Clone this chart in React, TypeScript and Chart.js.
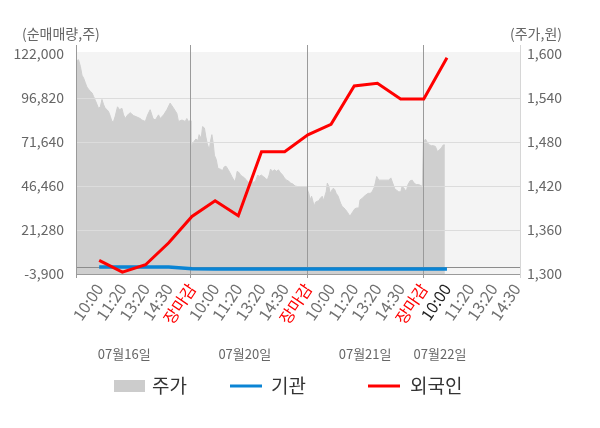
import { useEffect, useRef } from 'react';
import { Chart, registerables } from 'chart.js';

Chart.register(...registerables);

const FONT = "'Noto Sans CJK KR', 'Noto Sans', sans-serif";

// x축: 한 칸 = 한 구간 (1 = 첫날 10:00)
const timeLabels = [
  '10:00', '11:20', '13:20', '14:30', '장마감',
  '10:00', '11:20', '13:20', '14:30', '장마감',
  '10:00', '11:20', '13:20', '14:30', '장마감',
  '10:00', '11:20', '13:20', '14:30',
];
const dateLabels = ['07월16일', '07월20일', '07월21일', '07월22일'];

// 순매매량(주), x = 1..16
const foreignNet = [3900, -2800, 1400, 14000, 29000, 38000, 29400, 66100, 66100, 75700, 81800, 103700, 105200, 96300, 96300, 119900];
const instNet = [100, 100, 100, 100, -900, -1000, -1000, -1000, -1000, -1000, -1000, -1000, -1000, -1000, -1000, -1000];

// 주가(원) 장중 흐름 [구간 위치, 가격]
const priceJul16: [number, number][] = [
  [0.01, 1589], [0.08, 1592], [0.11, 1592], [0.19, 1583], [0.26, 1571], [0.33, 1567], [0.4, 1561], [0.47, 1555],
  [0.54, 1552], [0.62, 1549], [0.69, 1547], [0.76, 1542], [0.83, 1537], [0.91, 1531], [0.97, 1526], [1.05, 1528],
  [1.12, 1538], [1.19, 1531], [1.26, 1526], [1.34, 1524], [1.41, 1521], [1.48, 1515], [1.55, 1508], [1.62, 1508],
  [1.69, 1515], [1.79, 1528], [1.88, 1524], [1.98, 1526], [2.05, 1517], [2.13, 1512], [2.2, 1516], [2.34, 1520],
  [2.41, 1518], [2.48, 1516], [2.63, 1514], [2.77, 1512], [2.84, 1510], [2.99, 1508], [3.09, 1517], [3.2, 1524],
  [3.32, 1512], [3.42, 1510], [3.56, 1517], [3.63, 1512], [3.78, 1517], [3.92, 1524], [4.06, 1533], [4.21, 1526],
  [4.35, 1519], [4.42, 1508], [4.57, 1510], [4.71, 1508], [4.78, 1512], [4.85, 1508], [4.93, 1509],
];
const priceJul20: [number, number][] = [
  [4.96, 1472], [5.03, 1478], [5.1, 1481], [5.17, 1484], [5.26, 1482], [5.31, 1490], [5.4, 1485], [5.46, 1501],
  [5.54, 1499], [5.6, 1487], [5.66, 1478], [5.75, 1469], [5.8, 1481], [5.86, 1490], [5.92, 1478], [5.97, 1462],
  [6.05, 1456], [6.12, 1444], [6.22, 1443], [6.32, 1441], [6.39, 1446], [6.47, 1447], [6.55, 1443], [6.64, 1438],
  [6.72, 1433], [6.84, 1426], [6.9, 1431], [6.95, 1440], [7.04, 1438], [7.09, 1435], [7.18, 1433], [7.27, 1431],
  [7.35, 1428], [7.44, 1425], [7.53, 1426], [7.59, 1428], [7.66, 1424], [7.76, 1428], [7.84, 1435], [7.9, 1433],
  [7.99, 1435], [8.07, 1433], [8.16, 1431], [8.25, 1428], [8.33, 1435], [8.39, 1443], [8.48, 1440], [8.56, 1442],
  [8.65, 1440], [8.73, 1442], [8.82, 1438], [8.91, 1435], [8.99, 1431], [9.08, 1428], [9.16, 1427], [9.25, 1424],
  [9.34, 1423], [9.45, 1420], [9.59, 1419], [9.74, 1419], [9.85, 1419], [9.95, 1419],
];
const priceJul21: [number, number][] = [
  [9.98, 1415], [10.04, 1410], [10.1, 1401], [10.16, 1406], [10.22, 1399], [10.27, 1392], [10.33, 1398], [10.39, 1399],
  [10.47, 1400], [10.53, 1403], [10.62, 1406], [10.67, 1400], [10.73, 1406], [10.79, 1412], [10.84, 1424], [10.91, 1419],
  [10.96, 1410], [11.05, 1415], [11.1, 1417], [11.16, 1415], [11.22, 1410], [11.31, 1406], [11.36, 1401], [11.42, 1396],
  [11.48, 1392], [11.53, 1391], [11.62, 1388], [11.71, 1384], [11.77, 1381], [11.82, 1379], [11.88, 1382], [11.94, 1385],
  [12.03, 1389], [12.11, 1390], [12.2, 1390], [12.25, 1401], [12.34, 1403], [12.43, 1406], [12.51, 1408], [12.6, 1410],
  [12.69, 1410], [12.77, 1412], [12.86, 1418], [12.91, 1424], [12.97, 1433], [13.06, 1428], [13.15, 1428], [13.26, 1428],
  [13.38, 1428], [13.49, 1428], [13.58, 1431], [13.66, 1424], [13.75, 1416], [13.84, 1414], [13.92, 1412], [14.01, 1412],
  [14.06, 1419], [14.15, 1417], [14.24, 1412], [14.32, 1422], [14.41, 1427], [14.5, 1428], [14.58, 1424], [14.67, 1422],
  [14.78, 1422], [14.91, 1420], [14.94, 1420],
];
const priceJul22: [number, number][] = [
  [14.98, 1478], [15.07, 1484], [15.16, 1479], [15.24, 1476], [15.33, 1475], [15.41, 1475], [15.5, 1474], [15.59, 1467],
  [15.67, 1469], [15.76, 1472], [15.84, 1476], [15.91, 1476],
];

const leftTicks = [-3900, 21280, 46460, 71640, 96820, 122000];
const rightTicks = [1300, 1360, 1420, 1480, 1540, 1600];
const dayBreaks = [4.93, 9.95, 14.95];

const decorPlugin = {
  id: 'decor',
  beforeDatasetsDraw(chart: any) {
    const { ctx, chartArea: a } = chart;
    ctx.save();
    ctx.fillStyle = '#f4f4f4';
    ctx.fillRect(a.left, a.top - 2, a.right - a.left, a.bottom - a.top + 2);
    ctx.restore();
  },
  afterDatasetDraw(chart: any, args: any) {
    if (args.index !== 0) return;
    const { ctx, chartArea: a, scales } = chart;
    const yL = scales.yL;
    const x = scales.x;
    const hLine = (y: number, color: string) => {
      const yy = Math.round(y) + 0.5;
      ctx.strokeStyle = color;
      ctx.beginPath();
      ctx.moveTo(a.left, yy);
      ctx.lineTo(a.right, yy);
      ctx.stroke();
    };
    const vLine = (xp: number, color: string) => {
      const xx = Math.round(xp) + 0.5;
      ctx.strokeStyle = color;
      ctx.beginPath();
      ctx.moveTo(xx, a.top - 9);
      ctx.lineTo(xx, a.bottom + 4);
      ctx.stroke();
    };
    ctx.save();
    ctx.lineWidth = 1;
    leftTicks.slice(1, -1).forEach((t) => hLine(yL.getPixelForValue(t), '#dcdcdc'));
    hLine(yL.getPixelForValue(0), '#8c8c8c');
    hLine(a.bottom, '#9a9a9a');
    vLine(a.left, '#9a9a9a');
    vLine(a.right, '#d6d6d6');
    dayBreaks.forEach((v) => vLine(x.getPixelForValue(v), '#9a9a9a'));
    ctx.restore();
  },
  afterDraw(chart: any) {
    const { ctx, scales } = chart;
    const x = scales.x;
    ctx.save();
    ctx.textBaseline = 'middle';
    ctx.fillStyle = '#666';
    ctx.font = `14px ${FONT}`;
    ctx.textAlign = 'left';
    ctx.fillText('(순매매량,주)', 22, 34);
    ctx.textAlign = 'right';
    ctx.fillText('(주가,원)', 562, 34);

    ctx.font = `13px ${FONT}`;
    ctx.textAlign = 'center';
    const datePos = [2.08, 7.28, 12.47, 15.7];
    dateLabels.forEach((d, i) => ctx.fillText(d, x.getPixelForValue(datePos[i]), 354));

    // legend
    ctx.font = `19px ${FONT}`;
    ctx.textAlign = 'left';
    ctx.fillStyle = '#cccccc';
    ctx.fillRect(114, 380, 31, 12);
    ctx.lineWidth = 3;
    ctx.strokeStyle = '#0a84d4';
    ctx.beginPath();
    ctx.moveTo(230, 386);
    ctx.lineTo(262, 386);
    ctx.stroke();
    ctx.strokeStyle = '#ff0000';
    ctx.beginPath();
    ctx.moveTo(368, 386);
    ctx.lineTo(400, 386);
    ctx.stroke();
    ctx.fillStyle = '#333';
    ctx.fillText('주가', 152, 386);
    ctx.fillText('기관', 271, 386);
    ctx.fillText('외국인', 410, 386);
    ctx.restore();
  },
};

const App: React.FC = () => {
  const chartRef = useRef<HTMLCanvasElement | null>(null);
  const chartInstance = useRef<Chart | null>(null);

  useEffect(() => {
    if (!chartRef.current) return;
    if (chartInstance.current) chartInstance.current.destroy();

    const prices = [...priceJul16, ...priceJul20, ...priceJul21, ...priceJul22].map(([x, y]) => ({ x, y }));

    chartInstance.current = new Chart(chartRef.current, {
      type: 'line',
      data: {
        datasets: [
          {
            label: '주가',
            data: prices,
            yAxisID: 'yR',
            borderColor: '#cfcfcf',
            borderWidth: 1,
            backgroundColor: '#cfcfcf',
            fill: 'start',
            pointRadius: 0,
            tension: 0,
            order: 3,
          },
          {
            label: '기관',
            data: instNet.map((y, i) => ({ x: i + 1, y })),
            yAxisID: 'yL',
            borderColor: '#0a84d4',
            borderWidth: 3.5,
            pointRadius: 0,
            tension: 0,
            order: 2,
          },
          {
            label: '외국인',
            data: foreignNet.map((y, i) => ({ x: i + 1, y })),
            yAxisID: 'yL',
            borderColor: '#ff0000',
            borderWidth: 3,
            pointRadius: 0,
            tension: 0,
            order: 1,
          },
        ],
      },
      options: {
        responsive: false,
        animation: false,
        layout: { padding: { top: 54, left: 0, right: 0, bottom: 0 } },
        plugins: {
          legend: { display: false },
          tooltip: { enabled: false },
        },
        scales: {
          x: {
            type: 'linear',
            min: 0,
            max: 19.15,
            grid: { display: false, drawTicks: false },
            border: { display: false },
            afterBuildTicks: (axis: any) => {
              axis.ticks = timeLabels.map((_, i) => ({ value: i + 1 }));
            },
            afterFit: (axis: any) => {
              axis.height = 154;
            },
            ticks: {
              autoSkip: false,
              minRotation: 56,
              maxRotation: 56,
              padding: 6,
              font: { family: FONT, size: 16 },
              color: (c: any) =>
                timeLabels[c.index] === '장마감' ? '#ff0000' : c.index === 15 ? '#222222' : '#707070',
              callback: (_v: any, i: number) => timeLabels[i],
            },
          },
          yL: {
            type: 'linear',
            position: 'left',
            min: -3900,
            max: 122000,
            grid: { display: false, drawTicks: false },
            border: { display: false },
            afterBuildTicks: (axis: any) => {
              axis.ticks = leftTicks.map((value) => ({ value }));
            },
            afterFit: (axis: any) => {
              axis.width = 76;
            },
            ticks: {
              padding: 12,
              font: { family: FONT, size: 14 },
              color: '#666666',
              callback: (v: any) => Number(v).toLocaleString('en-US'),
            },
          },
          yR: {
            type: 'linear',
            position: 'right',
            min: 1300,
            max: 1600,
            grid: { display: false, drawTicks: false },
            border: { display: false },
            afterBuildTicks: (axis: any) => {
              axis.ticks = rightTicks.map((value) => ({ value }));
            },
            afterFit: (axis: any) => {
              axis.width = 80;
            },
            ticks: {
              padding: 7,
              font: { family: FONT, size: 14 },
              color: '#666666',
              callback: (v: any) => Number(v).toLocaleString('en-US'),
            },
          },
        },
      },
      plugins: [decorPlugin],
    });

    return () => {
      chartInstance.current?.destroy();
      chartInstance.current = null;
    };
  }, []);

  return (
    <div style={{ position: 'absolute', left: 0, top: 0, width: 600, height: 428, background: '#fff' }}>
      <canvas ref={chartRef} width={600} height={428} />
    </div>
  );
};

export default App;
